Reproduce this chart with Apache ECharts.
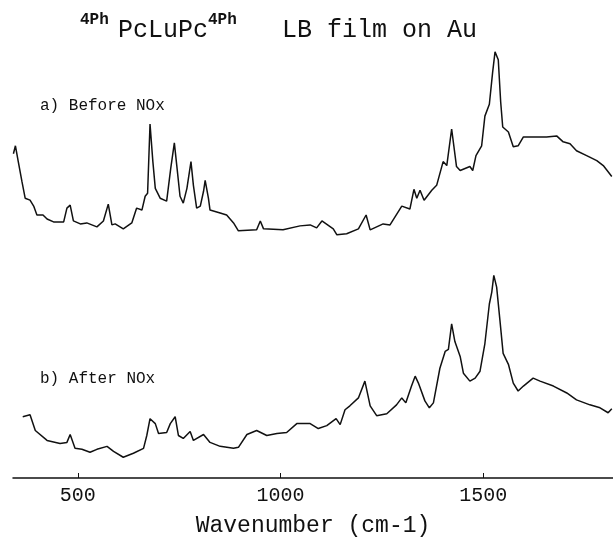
<!DOCTYPE html>
<html lang="en">
<head>
    <meta charset="utf-8">
    <title>PcLuPc LB film on Au</title>
    <style>
        html, body { margin: 0; padding: 0; background: #fff; }
        #main { width: 613px; height: 542px; }
    </style>
</head>
<body>
<div id="main"></div>
<script src="https://cdn.jsdelivr.net/npm/echarts@6/dist/echarts.min.js"></script>
<script>
    // spectrum a) before NOx : wavenumber / intensity (arb. units)
    var wnA = [341,346,353,362,370,382,391,399,414,424,
        440,465,473,481,489,506,522,547,563,575,
        584,592,612,633,645,658,666,672,678,685,
        691,703,719,729,738,744,752,760,769,779,
        785,793,802,810,814,822,826,851,867,884,
        896,941,950,958,1006,1048,1073,1089,1102,1130,
        1139,1163,1192,1211,1221,1253,1270,1299,1319,1329,
        1336,1344,1354,1373,1385,1401,1410,1422,1434,1443,
        1467,1474,1482,1496,1504,1515,1523,1529,1537,1543,
        1548,1562,1574,1586,1599,1623,1656,1681,1697,1714,
        1730,1755,1780,1796,1817];
    var intA = [328,336,320,300,283,281,275,266,266,262,
        259,259,273,276,260,257,258,254,260,277,
        256,257,252,258,273,271,285,288,358,320,
        293,283,280,313,339,316,285,278,293,320,
        296,273,275,290,301,283,271,268,266,258,
        250,251,260,252,251,255,256,253,260,252,
        246,247,252,266,251,257,256,275,272,292,
        283,291,281,291,296,320,316,353,315,311,
        315,311,326,336,366,378,410,431,423,380,
        355,350,335,336,345,345,345,346,340,338,
        331,326,321,316,305];

    // spectrum b) after NOx
    var wnB = [364,382,395,424,456,473,481,493,510,530,
        547,572,588,612,637,662,670,678,691,699,
        719,728,740,748,760,777,785,810,826,851,
        884,896,917,941,966,991,1015,1040,1073,1093,
        1114,1137,1147,1159,1171,1192,1208,1221,1237,1262,
        1286,1299,1309,1323,1332,1340,1356,1367,1377,1393,
        1406,1414,1422,1430,1443,1451,1467,1480,1492,1504,
        1515,1521,1526,1533,1541,1549,1562,1574,1586,1599,
        1623,1640,1673,1706,1730,1763,1788,1808,1817];
    var intB = [62,64,48,38,35,36,44,30,29,26,
        29,32,27,21,25,30,43,60,55,45,
        46,55,62,43,40,47,38,44,36,32,
        30,31,44,48,43,45,46,55,55,50,
        53,60,54,69,73,81,98,73,63,65,
        74,81,76,93,103,96,78,71,76,111,
        128,130,156,138,123,106,98,101,108,136,
        176,188,205,193,160,126,115,96,88,93,
        101,98,93,86,79,74,71,66,70];

    var xTicks = [500, 1000, 1500];

    function pairs(xs, ys) {
        var out = [];
        for (var i = 0; i < xs.length; i++) {
            out.push([xs[i], ys[i]]);
        }
        return out;
    }

    var mono = '"Liberation Mono", "DejaVu Sans Mono", monospace';

    var myChart = echarts.init(document.getElementById('main'), null, {renderer: 'canvas'});
    var option = {
        animation: false,
        backgroundColor: '#fff',
        grid: { left: 13, right: 0, top: 40, bottom: 59 },
        xAxis: {
            type: 'value',
            min: 340,
            max: 1820,
            name: 'Wavenumber (cm-1)',
            nameLocation: 'middle',
            nameGap: 36,
            nameTextStyle: { fontFamily: mono, fontSize: 23, color: '#111' },
            axisLine: { lineStyle: { color: '#111', width: 1.5 } },
            axisTick: { inside: true, length: 5, customValues: xTicks, lineStyle: { color: '#111' } },
            axisLabel: {
                customValues: xTicks,
                formatter: function (v) { return String(v); },
                margin: 8, fontFamily: mono, fontSize: 20, color: '#111'
            },
            splitLine: { show: false }
        },
        yAxis: {
            type: 'value',
            min: 0,
            max: 443,
            show: false
        },
        series: [
            {
                name: 'a) Before NOx',
                type: 'line',
                data: pairs(wnA, intA),
                showSymbol: false,
                lineStyle: { color: '#111', width: 1.5 }
            },
            {
                name: 'b) After NOx',
                type: 'line',
                data: pairs(wnB, intB),
                showSymbol: false,
                lineStyle: { color: '#111', width: 1.5 }
            }
        ],
        graphic: [
            { type: 'text', x: 80, y: 20, style: { text: '4Ph', font: 'bold 16px ' + mono, fill: '#111', verticalAlign: 'middle' } },
            { type: 'text', x: 118, y: 30, style: { text: 'PcLuPc', font: '25px ' + mono, fill: '#111', verticalAlign: 'middle' } },
            { type: 'text', x: 208, y: 20, style: { text: '4Ph', font: 'bold 16px ' + mono, fill: '#111', verticalAlign: 'middle' } },
            { type: 'text', x: 282, y: 30, style: { text: 'LB film on Au', font: '25px ' + mono, fill: '#111', verticalAlign: 'middle' } },
            { type: 'text', x: 40, y: 106, style: { text: 'a) Before NOx', font: '16px ' + mono, fill: '#111', verticalAlign: 'middle' } },
            { type: 'text', x: 40, y: 379, style: { text: 'b) After NOx', font: '16px ' + mono, fill: '#111', verticalAlign: 'middle' } }
        ]
    };
    myChart.setOption(option);
</script>
</body>
</html>
